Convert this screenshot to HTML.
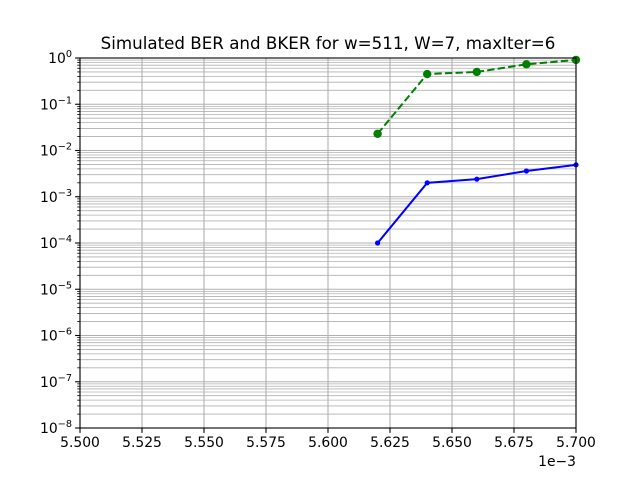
<!DOCTYPE html>
<html><head><meta charset="utf-8"><style>
body{margin:0;background:#fff;width:640px;height:480px;overflow:hidden}
svg{font-family:"DejaVu Sans","Liberation Sans",sans-serif}
</style></head><body>
<svg id="c" width="640" height="480"></svg>
<script>
const xValues=[5.62,5.64,5.66,5.68,5.70];
const berValues=[1e-4,2.0e-3,2.4e-3,3.6e-3,4.9e-3];
const bkerValues=[0.023,0.45,0.5,0.73,0.91];
const xTicks=[5.5,5.525,5.55,5.575,5.6,5.625,5.65,5.675,5.7];
const xTickLabels=["5.500","5.525","5.550","5.575","5.600","5.625","5.650","5.675","5.700"];
const yExps=[0,-1,-2,-3,-4,-5,-6,-7,-8];
const L=80,R=576,T=58,B=428;
const sx=v=>L+(v-5.5)/0.2*(R-L);
const sy=v=>T+(-Math.log10(v))/8*(B-T);
const svg=document.getElementById('c');
const NS='http://www.w3.org/2000/svg';
function mk(t,a,p){const e=document.createElementNS(NS,t);for(const k in a)e.setAttribute(k,a[k]);(p||svg).appendChild(e);return e;}
mk('rect',{x:0,y:0,width:640,height:480,fill:'#fff'});
for(let d=0;d<8;d++){for(let m=1;m<10;m++){const v=Math.pow(10,-8+d)*m;const y=sy(v);
const g=mk('line',{x1:L,x2:R,y1:y,y2:y,stroke:'#b0b0b0','stroke-width':m==1?1.1:0.8});
}}
xTicks.forEach(t=>{const x=sx(t);const g=mk('line',{x1:x,x2:x,y1:T,y2:B,stroke:'#b0b0b0','stroke-width':1.1});
});
function series(vals,color,dash,r,name){
const pts=xValues.map((x,i)=>sx(x)+','+sy(vals[i])).join(' ');
const pl=mk('polyline',{points:pts,fill:'none',stroke:color,'stroke-width':2,'stroke-dasharray':dash});

xValues.forEach((x,i)=>{const c=mk('circle',{cx:sx(x),cy:sy(vals[i]),r:r,fill:color});
});}
series(berValues,'#0000ff','none',2.6,'ber');
series(bkerValues,'#008000','7.4,3.2',4.2,'bker');
mk('rect',{x:L,y:T,width:R-L,height:B-T,fill:'none',stroke:'#000','stroke-width':1.1});
xTicks.forEach((t,i)=>{const x=sx(t);mk('line',{x1:x,x2:x,y1:B,y2:B+4.9,stroke:'#000','stroke-width':1.1});
const tx=mk('text',{x:x,y:B+19,'font-size':13.9,'text-anchor':'middle'});tx.textContent=xTickLabels[i];
});
yExps.forEach(e=>{const y=sy(Math.pow(10,e));mk('line',{x1:L,x2:L-4.9,y1:y,y2:y,stroke:'#000','stroke-width':1.1});
const tx=mk('text',{x:L-8,y:y+5,'font-size':13.9,'text-anchor':'end'});
tx.innerHTML='10<tspan dy="-6" font-size="9.7">'+(e<0?'\u2212'+(-e):e)+'</tspan>';
});
for(let d=0;d<8;d++)for(let m=2;m<10;m++){const y=sy(Math.pow(10,-8+d)*m);mk('line',{x1:L,x2:L-2.8,y1:y,y2:y,stroke:'#000','stroke-width':0.8});}
const off=mk('text',{x:576,y:466,'font-size':13.9,'text-anchor':'end'});off.textContent='1e\u22123';

const ti=mk('text',{x:328,y:49,'font-size':16.7,'text-anchor':'middle'});ti.textContent='Simulated BER and BKER for w=511, W=7, maxIter=6';

</script></body></html>
